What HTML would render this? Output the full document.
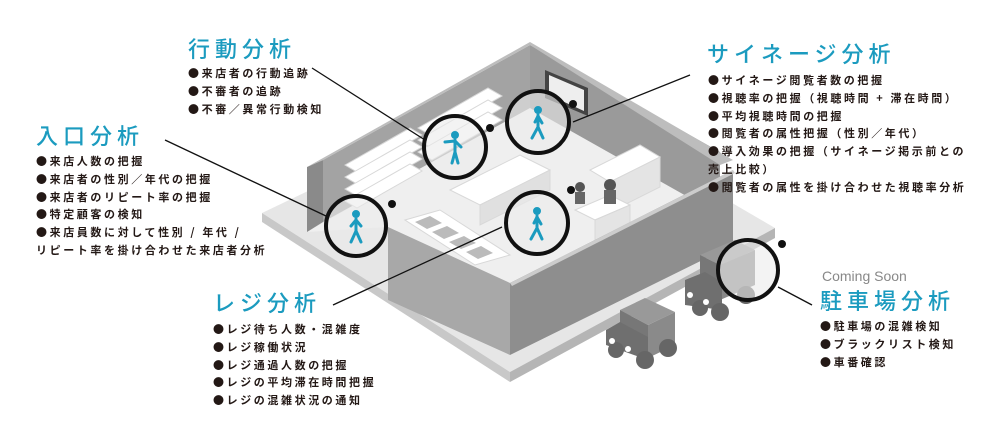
<!DOCTYPE html>
<html><head><meta charset="utf-8"><style>
body{margin:0;width:1000px;height:439px;background:#fff;position:relative;overflow:hidden;font-family:"Liberation Sans","Noto Sans CJK JP",sans-serif}
.t{position:absolute;color:#1b9bbf;font-size:22px;letter-spacing:5px;font-weight:500;white-space:nowrap;line-height:1}
.l{position:absolute;color:#231815;font-size:11px;letter-spacing:2.6px;font-weight:bold;white-space:nowrap;line-height:17.8px;font-family:"Noto Sans CJK JP",sans-serif}
svg{position:absolute;left:0;top:0}
</style></head><body>
<svg width="1000" height="439" viewBox="0 0 1000 439">
<!-- slab -->
<polygon points="262,213 530,85 775,228 510,372" fill="#e6e6e6"/>
<polygon points="262,213 510,372 510,382 262,222" fill="#c8c8c8"/>
<polygon points="510,372 775,228 775,238 510,382" fill="#b5b5b5"/>
<!-- floor -->
<polygon points="307,232 530,105 733,218 510,283 388,227" fill="#efefef"/>
<!-- back walls -->
<polygon points="323,160 530,45 530,108 323,222" fill="#a3a3a3"/>
<polygon points="307,167 323,160 323,222 307,232" fill="#8a8a8a"/>
<polygon points="307,167 530,42 530,45 323,160" fill="#bdbdbd"/>
<polygon points="530,45 720,152 720,215 530,108" fill="#9a9a9a"/>
<polygon points="530,42 733,160 720,165 530,45" fill="#bdbdbd"/>
<!-- sign -->
<polygon points="545,70 588,88 588,116 545,98" fill="#444"/>
<polygon points="549,75 584,90 584,111 549,95" fill="#eee"/>
<!-- shelves -->
<g fill="#fff" stroke="#d8d8d8">
<polygon points="345,165 410,128 422,135 357,172"/><polygon points="345,177 410,140 422,147 357,184"/><polygon points="345,189 410,152 422,159 357,196"/><polygon points="345,201 410,164 422,171 357,208"/>
<polygon points="418,128 488,88 502,96 432,136"/><polygon points="418,140 488,100 502,108 432,148"/><polygon points="418,152 488,112 502,120 432,160"/>
<polygon points="450,190 520,155 550,170 480,205"/><polygon points="480,205 550,170 550,190 480,225" fill="#e0e0e0"/>
<polygon points="405,220 440,210 510,255 475,265"/>
<polygon points="590,170 640,145 660,157 610,182"/><polygon points="610,182 660,157 660,187 610,212" fill="#e4e4e4"/>
<polygon points="575,210 610,195 630,205 595,220"/><polygon points="595,220 630,205 630,240 595,255" fill="#e4e4e4"/>
</g>
<g fill="#bbb"><polygon points="415,222 430,216 442,223 427,229"/><polygon points="432,232 447,226 459,233 444,239"/><polygon points="449,242 464,236 476,243 461,249"/><polygon points="466,252 481,246 493,253 478,259"/></g>
<!-- front walls -->
<polygon points="388,227 510,283 510,355 388,300" fill="#a8a8a8"/>
<polygon points="510,283 733,170 733,245 510,355" fill="#8e8e8e"/>
<polygon points="510,283 733,170 735,173 512,286" fill="#ccc"/>
<!-- people behind counter -->
<circle cx="610" cy="185" r="6" fill="#555"/><rect x="604" y="190" width="12" height="14" fill="#666"/>
<circle cx="580" cy="187" r="5" fill="#555"/><rect x="575" y="192" width="10" height="12" fill="#666"/>
<!-- trucks -->
<g>
<polygon points="700,255 735,240 755,250 720,265" fill="#999"/>
<polygon points="700,255 720,265 720,300 700,290" fill="#777"/>
<polygon points="720,265 755,250 755,285 720,300" fill="#888"/>
<polygon points="685,280 705,272 722,282 722,310 685,305" fill="#6f6f6f"/>
<circle cx="700" cy="308" r="8" fill="#666"/><circle cx="720" cy="312" r="9" fill="#666"/><circle cx="746" cy="295" r="9" fill="#666"/>
<circle cx="690" cy="295" r="3" fill="#fff"/><circle cx="706" cy="302" r="3" fill="#fff"/>
</g>
<g>
<polygon points="620,310 645,298 675,312 648,325" fill="#999"/>
<polygon points="620,310 648,325 648,355 620,342" fill="#777"/>
<polygon points="648,325 675,312 675,345 648,358" fill="#8a8a8a"/>
<polygon points="606,330 620,322 648,337 648,360 606,345" fill="#6f6f6f"/>
<circle cx="616" cy="350" r="8" fill="#666"/><circle cx="645" cy="360" r="9" fill="#666"/><circle cx="668" cy="348" r="9" fill="#666"/>
<circle cx="612" cy="341" r="3" fill="#fff"/><circle cx="628" cy="349" r="3" fill="#fff"/>
</g>
<!-- lines -->
<g stroke="#111" stroke-width="1.3">
<line x1="312" y1="68" x2="425" y2="140"/>
<line x1="165" y1="140" x2="326" y2="216"/>
<line x1="690" y1="75" x2="573" y2="122"/>
<line x1="333" y1="305" x2="502" y2="227"/>
<line x1="778" y1="287" x2="812" y2="305"/>
</g>
<!-- circles -->
<g fill="rgba(235,235,235,0.6)" stroke="#111" stroke-width="4">
<circle cx="356" cy="226" r="30"/><circle cx="455" cy="147" r="31"/><circle cx="538" cy="122" r="31"/><circle cx="537" cy="223" r="31"/><circle cx="748" cy="270" r="30"/>
</g>
<g fill="#111"><circle cx="392" cy="204" r="4"/><circle cx="490" cy="128" r="4"/><circle cx="573" cy="104" r="4"/><circle cx="571" cy="190" r="4"/><circle cx="782" cy="244" r="4"/></g>
<!-- figures -->
<g fill="none" stroke="#1b9bbf" stroke-width="3" stroke-linecap="round">
<g transform="translate(356,226)"><circle cx="0" cy="-12" r="2.5" fill="#1b9bbf"/><path d="M0,-7 L0,5 M0,5 L-5,16 M0,5 L5,16 M-5,0 L0,-6 L5,0"/></g>
<g transform="translate(455,147)"><circle cx="0" cy="-12" r="2.5" fill="#1b9bbf"/><path d="M0,-7 L0,5 M0,5 L-3,16 M0,5 L3,16 M-10,-5 L0,-6 L6,0"/></g>
<g transform="translate(538,122)"><circle cx="0" cy="-12" r="2.5" fill="#1b9bbf"/><path d="M0,-7 L0,5 M0,5 L-6,16 M0,5 L5,16 M-3,0 L0,-6 L4,1"/></g>
<g transform="translate(537,223)"><circle cx="0" cy="-12" r="2.5" fill="#1b9bbf"/><path d="M0,-7 L0,5 M0,5 L-6,16 M0,5 L5,16 M-3,0 L0,-6 L4,1"/></g>
</g>
<text x="822" y="281" font-size="14" fill="#888" font-family="Liberation Sans, sans-serif">Coming Soon</text>
</svg>

<div class="t" style="left:188px;top:39px">行動分析</div>
<div class="l" style="left:188px;top:65px">●来店者の行動追跡<br>●不審者の追跡<br>●不審／異常行動検知</div>

<div class="t" style="left:36px;top:126px">入口分析</div>
<div class="l" style="left:36px;top:153px">●来店人数の把握<br>●来店者の性別／年代の把握<br>●来店者のリピート率の把握<br>●特定顧客の検知<br>●来店員数に対して性別 / 年代 /<br>リピート率を掛け合わせた来店者分析</div>

<div class="t" style="left:707px;top:44px">サイネージ分析</div>
<div class="l" style="left:708px;top:72px">●サイネージ閲覧者数の把握<br>●視聴率の把握（視聴時間 + 滞在時間）<br>●平均視聴時間の把握<br>●閲覧者の属性把握（性別／年代）<br>●導入効果の把握（サイネージ掲示前との<br>売上比較）<br>●閲覧者の属性を掛け合わせた視聴率分析</div>

<div class="t" style="left:213px;top:293px">レジ分析</div>
<div class="l" style="left:213px;top:321px">●レジ待ち人数・混雑度<br>●レジ稼働状況<br>●レジ通過人数の把握<br>●レジの平均滞在時間把握<br>●レジの混雑状況の通知</div>

<div class="t" style="left:820px;top:291px">駐車場分析</div>
<div class="l" style="left:820px;top:318px">●駐車場の混雑検知<br>●ブラックリスト検知<br>●車番確認</div>
</body></html>
